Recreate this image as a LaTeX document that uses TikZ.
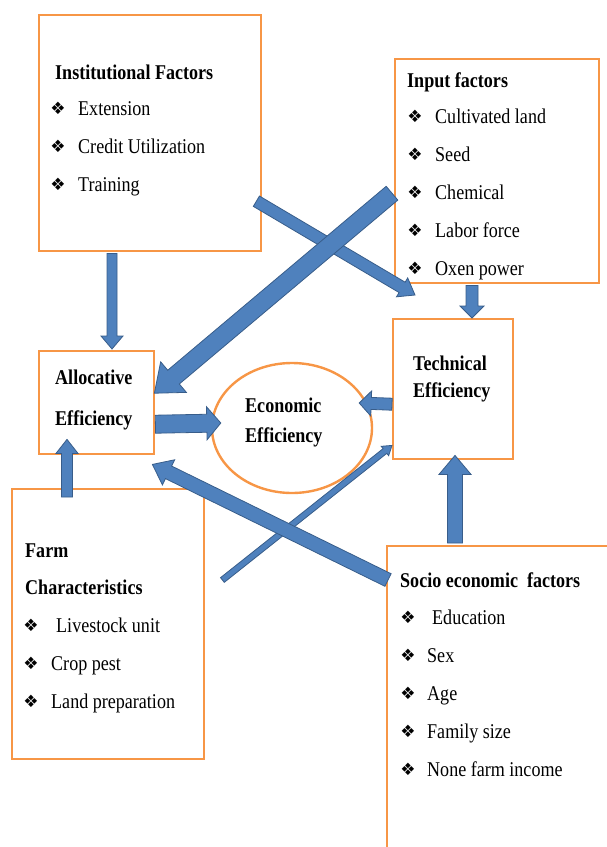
\documentclass[tikz,border=0pt]{standalone}
\usepackage{fontspec}
\setmainfont{Liberation Serif}[FakeStretch=0.86]
\newfontfamily\bulletfont{DejaVu Sans}
\usetikzlibrary{calc,shapes.geometric}

\definecolor{boxorange}{HTML}{F79646}
\definecolor{arrowblue}{HTML}{4F81BD}
\definecolor{arrowedge}{HTML}{385D8A}

\tikzset{
	factorbox/.style={draw=boxorange, line width=2.4pt, fill=white, inner sep=0pt, anchor=north west},
	heading/.style={font=\bfseries, anchor=base west, inner sep=0pt},
	entry/.style={anchor=base west, inner sep=0pt},
	bulletmark/.style={font=\bulletfont\fontsize{17pt}{17pt}\selectfont, inner sep=0pt},
	blockfill/.style={fill=arrowblue, draw=arrowedge, line width=0.8pt, line join=miter},
}

% block arrow: half shaft, half head, head length, from, to
\newcommand{\fatarrow}[5]{%
	\path #4 coordinate (fa-s) #5 coordinate (fa-e);
	\path ($(fa-e)!#3!(fa-s)$) coordinate (fa-h);
	\filldraw[blockfill] ($(fa-s)!#1!90:(fa-e)$) -- ($(fa-h)!#1!90:(fa-e)$)
		-- ($(fa-h)!#2!90:(fa-e)$) -- (fa-e) -- ($(fa-h)!#2!-90:(fa-e)$)
		-- ($(fa-h)!#1!-90:(fa-e)$) -- ($(fa-s)!#1!-90:(fa-e)$) -- cycle;
}

\begin{document}
\begin{tikzpicture}[x=1pt, y=-1pt]
	\fontsize{21pt}{25pt}\selectfont
	\useasboundingbox (0,0) rectangle (607,847);

	% boxes
	\node[factorbox, minimum width=222pt, minimum height=236pt] (inst) at (38,14) {};
	\node[factorbox, minimum width=204pt, minimum height=224pt] (input) at (394,58) {};
	\node[factorbox, minimum width=115pt, minimum height=103pt] (alloc) at (38,350) {};
	\node[factorbox, minimum width=120pt, minimum height=140pt] (tech) at (392,318) {};
	\node[factorbox, minimum width=192pt, minimum height=270pt] (farm) at (11,488) {};
	\node[factorbox, minimum width=224pt, minimum height=305pt] (socio) at (386,545) {};
	\node[draw=boxorange, line width=2.4pt, ellipse, inner sep=0pt,
		minimum width=160pt, minimum height=130pt] (econ) at (292,428) {};

	% texts
	\node[heading] (inst-title) at (55,79) {Institutional Factors};
	\foreach \txt [count=\i] in {Extension, Credit Utilization, Training} {
		\node[bulletmark] (inst-b\i) at (58,70+38*\i) {❖};
		\node[entry] (inst-t\i) at (78,77+38*\i) {\txt};
	}

	\node[heading] (input-title) at (407,87) {Input factors};
	\foreach \txt [count=\i] in {Cultivated land, Seed, Chemical, Labor force, Oxen power} {
		\node[bulletmark] (input-b\i) at (415,79+37.8*\i) {❖};
		\node[entry] (input-t\i) at (435,86+37.8*\i) {\txt};
	}

	\node[heading] (alloc-l1) at (55,384) {Allocative};
	\node[heading] (alloc-l2) at (55,425) {Efficiency};
	\node[heading] (econ-l1) at (245,412) {Economic};
	\node[heading] (econ-l2) at (245,442) {Efficiency};
	\node[heading] (tech-l1) at (413,370) {Technical};
	\node[heading] (tech-l2) at (413,397) {Efficiency};

	\node[heading] (farm-title1) at (25,557) {Farm};
	\node[heading] (farm-title2) at (25,594) {Characteristics};
	\foreach \x/\txt [count=\i] in {56/Livestock unit, 51/Crop pest, 51/Land preparation} {
		\node[bulletmark] (farm-b\i) at (31,587+38*\i) {❖};
		\node[entry] (farm-t\i) at (\x,594+38*\i) {\txt};
	}

	\node[heading] (socio-title) at (400,587) {Socio economic~ factors};
	\foreach \x/\txt [count=\i] in {432/Education, 427/Sex, 427/Age, 427/Family size, 427/None farm income} {
		\node[bulletmark] (socio-b\i) at (408,580+37.8*\i) {❖};
		\node[entry] (socio-t\i) at (\x,587+37.8*\i) {\txt};
	}

	% arrows
	\fatarrow{3pt}{6pt}{9pt}{($(farm.north east)+(17,92)$)}{($(tech.south west)+(0,-15)$)}
	\fatarrow{7pt}{14pt}{18pt}{($(socio.north west)+(2,35)$)}{($(alloc.south east)+(-3,9)$)}
	\fatarrow{6pt}{11pt}{15pt}{($(inst.east)+(-6,68)$)}{($(tech.north west)+(23,-23)$)}
	\fatarrow{9pt}{20pt}{25pt}{($(input.west)+(-2,22)$)}{($(alloc.east)+(-1,-9.5)$)}
	\fatarrow{5pt}{11pt}{13pt}{($(inst.south west)+(74,1)$)}{($(alloc.north west)+(74,-1)$)}
	\fatarrow{6pt}{12pt}{12pt}{($(input.south west)+(78,1)$)}{($(tech.north west)+(80,0)$)}
	\fatarrow{9pt}{16.5pt}{14pt}{($(alloc.east)+(0,21.5)$)}{($(econ.west)+(10,-5)$)}
	\fatarrow{6pt}{12.5pt}{12pt}{($(tech.west)+(0,15)$)}{($(econ.east)+(-14,-25)$)}
	\fatarrow{5.5pt}{11pt}{14pt}{($(farm.north west)+(56,9)$)}{($(alloc.south west)+(29,-16)$)}
	\fatarrow{7.5pt}{16pt}{19pt}{($(socio.north west)+(69,-2)$)}{($(tech.south west)+(63,-5)$)}
\end{tikzpicture}
\end{document}
